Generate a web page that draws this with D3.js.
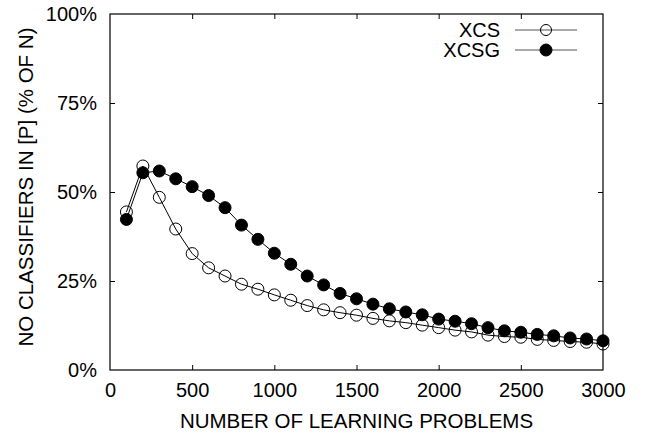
<!DOCTYPE html>
<html><head><meta charset="utf-8">
<script src="https://cdn.jsdelivr.net/npm/d3@7"></script>
<style>body{margin:0;background:#fff}text{font-family:"Liberation Sans",Arial,sans-serif;fill:#000}</style>
</head><body><svg id="c" width="646" height="439"></svg>
<script>
const problems = [100,200,300,400,500,600,700,800,900,1000,1100,1200,1300,1400,1500,1600,1700,1800,1900,2000,2100,2200,2300,2400,2500,2600,2700,2800,2900,3000];
const xcs  = [44.4,57.3,48.5,39.6,32.7,28.7,26.4,24.1,22.7,21.1,19.6,18.1,16.9,16.1,15.4,14.5,13.8,13.3,12.6,11.9,11.2,10.7,9.8,9.4,9.2,8.6,8.3,8.0,7.8,7.3];
const xcsg = [42.3,55.4,55.9,53.7,51.5,49.0,45.6,40.7,36.7,32.8,29.7,26.4,23.9,21.5,20.0,18.5,17.2,16.3,15.5,14.3,13.7,13.0,11.9,11.0,10.6,10.0,9.6,9.0,8.7,8.2];
const xTicks = [0,500,1000,1500,2000,2500,3000];
const yTicks = [0,25,50,75,100];
const seriesNames = ["XCS","XCSG"];

const svg = d3.select("#c");
const L=110,R=603,T=14,B=370;
const x = d3.scaleLinear().domain([0,3000]).range([L,R]);
const y = d3.scaleLinear().domain([0,100]).range([B,T]);

svg.append("rect").attr("x",L).attr("y",T).attr("width",R-L).attr("height",B-T)
 .attr("fill","none").attr("stroke","#000").attr("stroke-width",1.2);

const fs = 20;
const xa = svg.append("g").attr("transform",`translate(0,${B})`)
 .call(d3.axisBottom(x).tickValues(xTicks).tickSize(-5).tickPadding(13).tickFormat(d3.format("d")));
const xt = svg.append("g").attr("transform",`translate(0,${T})`)
 .call(d3.axisTop(x).tickValues(xTicks).tickSize(-5).tickFormat(""));
const ya = svg.append("g").attr("transform",`translate(${L},0)`)
 .call(d3.axisLeft(y).tickValues(yTicks).tickSize(-5).tickPadding(13).tickFormat(d=>d+"%"));
const yr = svg.append("g").attr("transform",`translate(${R},0)`)
 .call(d3.axisRight(y).tickValues(yTicks).tickSize(-5).tickFormat(""));
[xa,xt,ya,yr].forEach(a=>{
  a.select(".domain").remove();
  a.selectAll(".tick line").attr("stroke","#000");
  a.selectAll("text").attr("font-size",fs).attr("font-family","Liberation Sans, Arial, sans-serif").attr("fill","#000");
});
[xa,xt].forEach(a=>a.selectAll(".tick line").filter(d=>d===0||d===3000).remove());
[ya,yr].forEach(a=>a.selectAll(".tick line").filter(d=>d===0||d===100).remove());

svg.append("text").attr("x",(L+R)/2).attr("y",428).attr("text-anchor","middle").attr("font-size",20.5)
 .text("NUMBER OF LEARNING PROBLEMS");
svg.append("text").attr("transform",`translate(33,187) rotate(-90)`).attr("text-anchor","middle").attr("font-size",20.5)
 .text("NO CLASSIFIERS IN [P] (% OF N)");

const line = d3.line().x((d,i)=>x(problems[i])).y(d=>y(d));
[xcs,xcsg].forEach((s,k)=>{
  svg.append("path").attr("d",line(s)).attr("fill","none").attr("stroke","#000").attr("stroke-width",1);
  svg.append("g").selectAll("circle").data(s).join("circle")
   .attr("cx",(d,i)=>x(problems[i])).attr("cy",d=>y(d)).attr("r",6)
   .attr("fill",k===0?"none":"#000").attr("stroke","#000").attr("stroke-width",1);
});

const ly=[30,50];
seriesNames.forEach((n,k)=>{
  svg.append("text").attr("x",500).attr("y",ly[k]).attr("dy","0.35em").attr("text-anchor","end").attr("font-size",fs).text(n);
  svg.append("line").attr("x1",515).attr("x2",577).attr("y1",ly[k]).attr("y2",ly[k]).attr("stroke","#555").attr("stroke-width",1);
  svg.append("circle").attr("cx",546).attr("cy",ly[k]).attr("r",k===0?5.5:6)
   .attr("fill",k===0?"none":"#000").attr("stroke","#000");
});
</script></body></html>
